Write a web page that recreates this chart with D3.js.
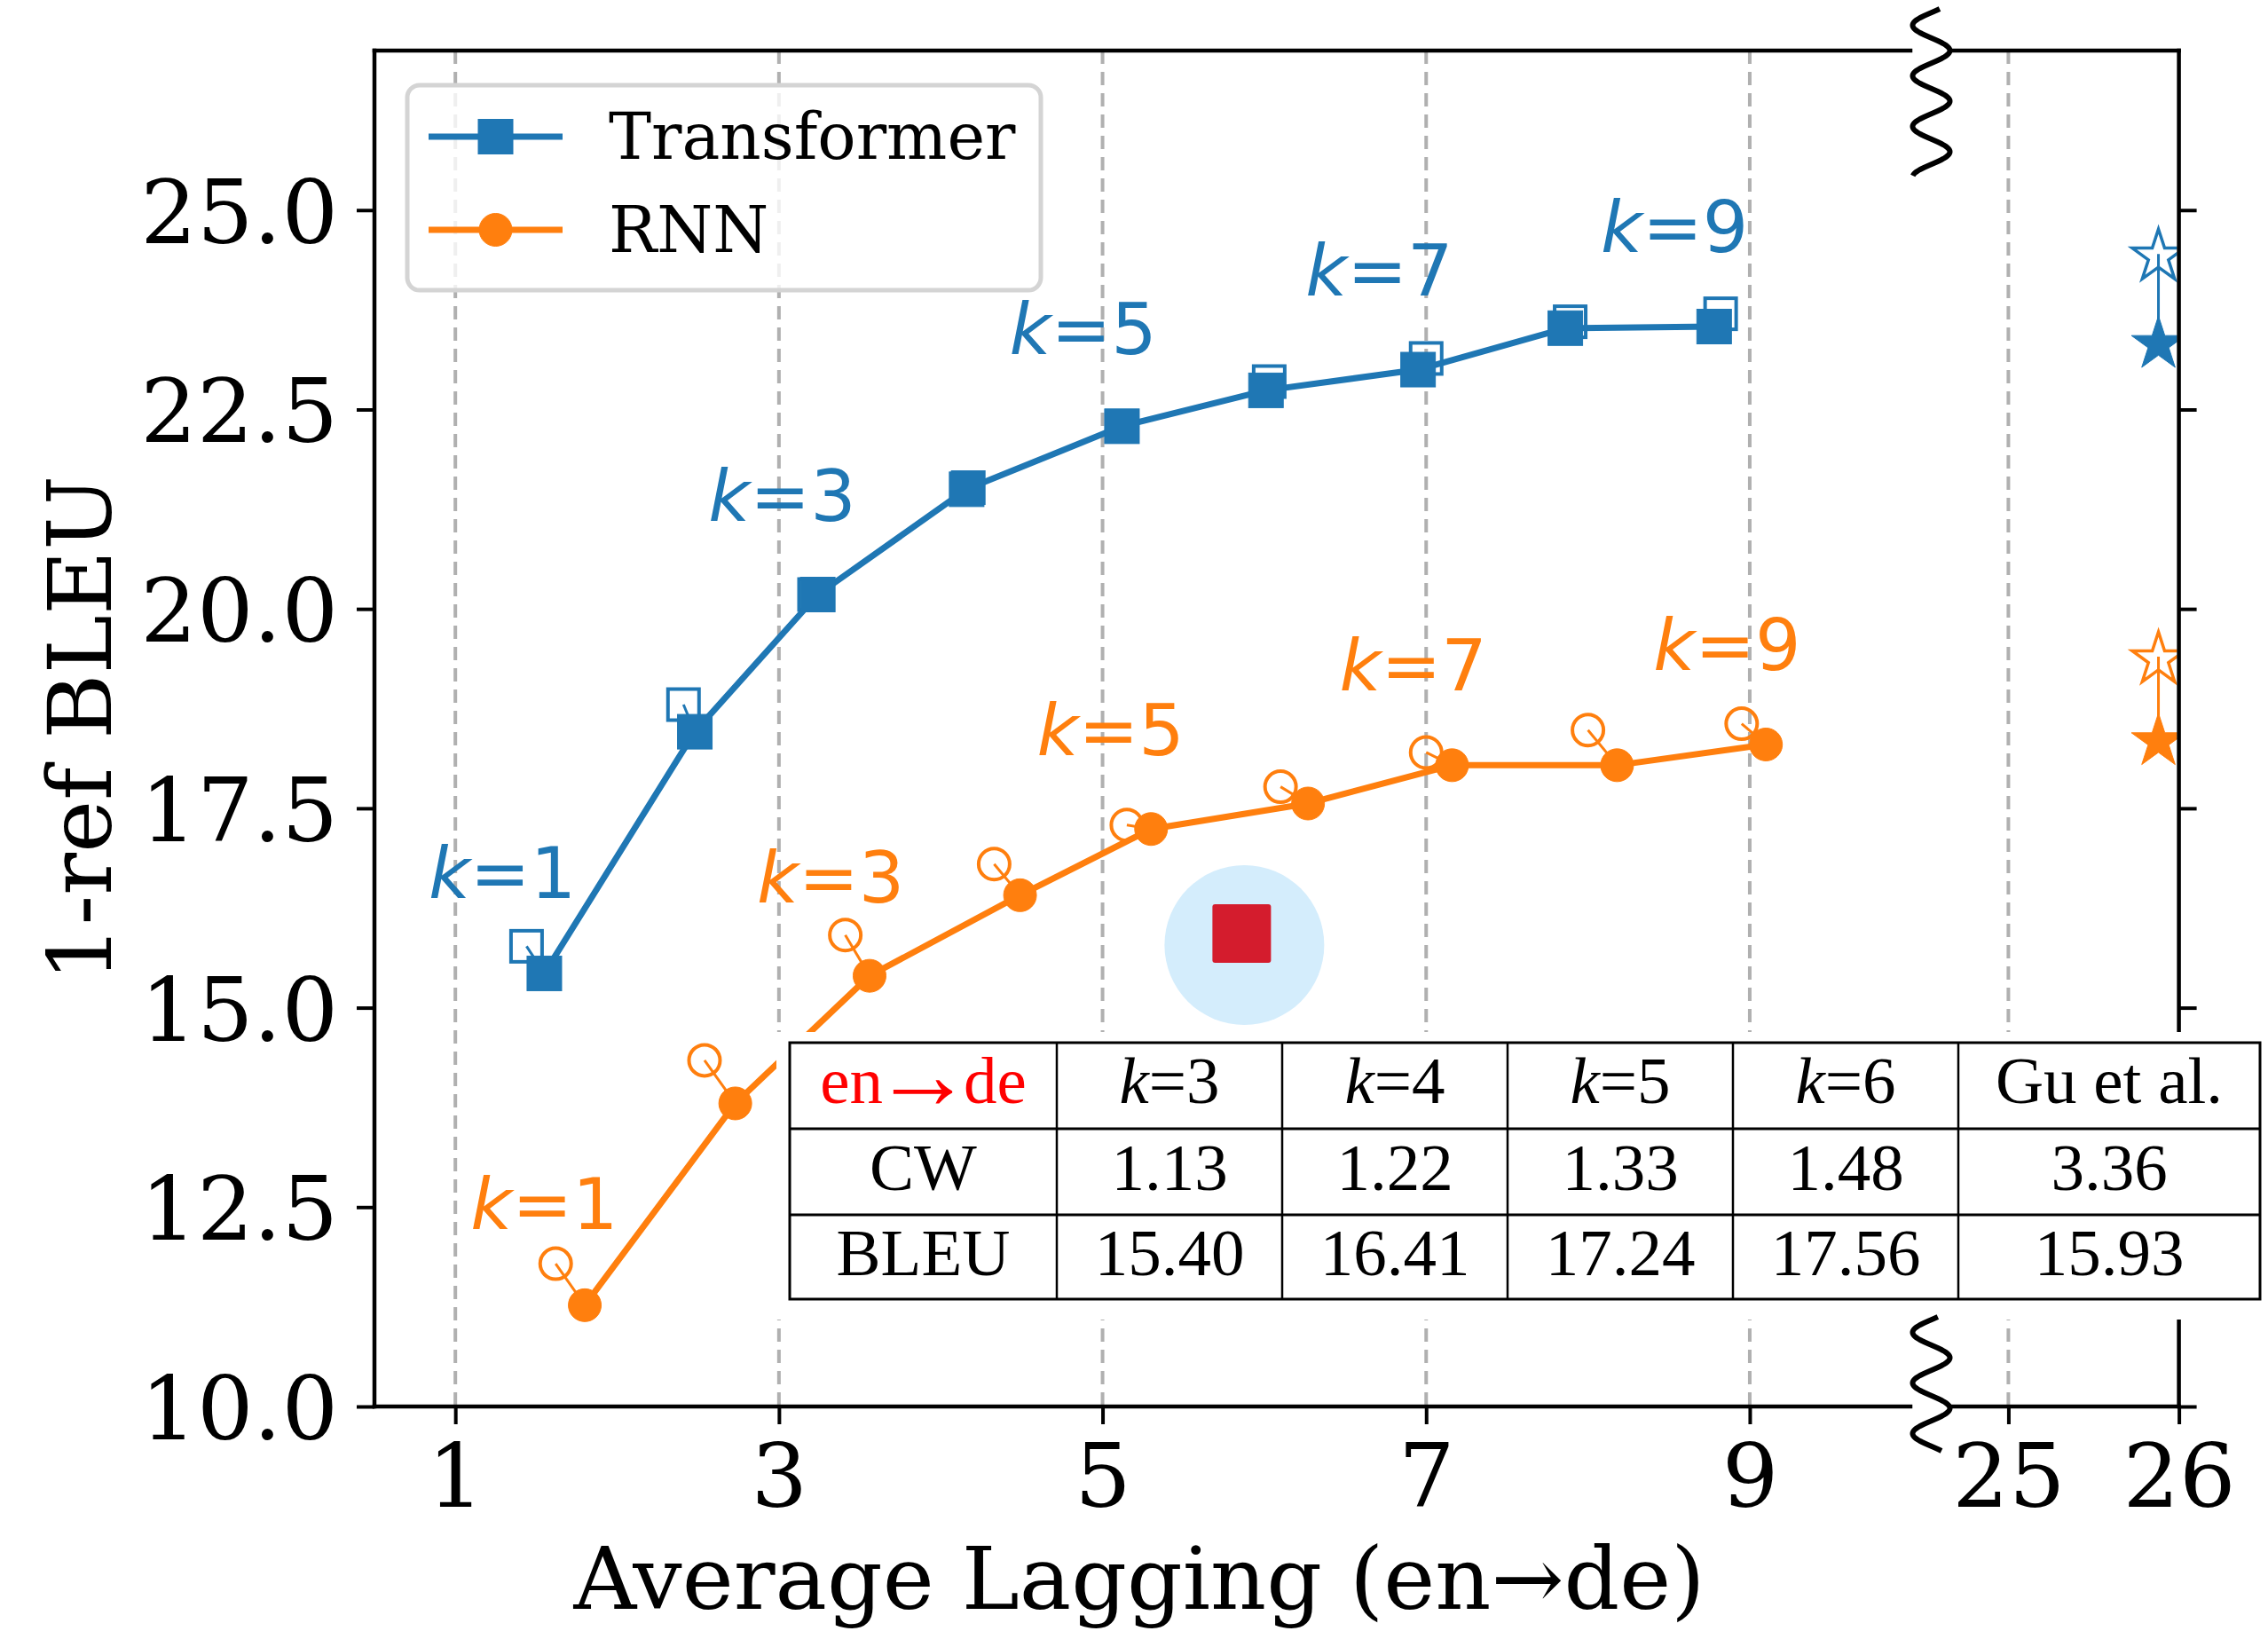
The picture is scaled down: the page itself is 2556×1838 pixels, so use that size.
<!DOCTYPE html>
<html>
<head>
<meta charset="utf-8">
<script src="https://cdn.jsdelivr.net/npm/d3@7"></script>
<style>
  html, body { margin: 0; padding: 0; background: #fff; }
  svg { display: block; }
</style>
</head>
<body>
<svg id="chart"></svg>
<script>
// ---- values ----
const transformerAL   = [1.55, 2.48, 3.24, 4.16, 5.12, 6.01, 6.95, 7.86, 8.78];
const transformerBLEU = [15.43, 18.46, 20.18, 21.50, 22.29, 22.74, 23.00, 23.52, 23.54];
// hollow markers (test-time wait-k), joined to the filled ones
const transformerTestAL   = [1.44, 2.41, 3.22, 4.17, 5.12, 6.03, 7.00, 7.89, 8.82];
const transformerTestBLEU = [15.77, 18.80, 20.18, 21.52, 22.29, 22.85, 23.14, 23.60, 23.70];

const rnnAL   = [1.80, 2.73, 3.56, 4.49, 5.30, 6.27, 7.16, 8.18, 9.10];
const rnnBLEU = [11.27, 13.80, 15.40, 16.41, 17.24, 17.56, 18.04, 18.04, 18.30];
const rnnTestAL   = [1.62, 2.54, 3.41, 4.33, 5.15, 6.10, 7.00, 8.00, 8.95];
const rnnTestBLEU = [11.79, 14.34, 15.91, 16.80, 17.29, 17.77, 18.20, 18.48, 18.56];

// full-sentence models (right of the axis break)
const fullAL = 25.88;
const fullBLEU     = [23.35, 18.37];   // Transformer, RNN
const fullTestBLEU = [24.45, 19.40];

// k annotations (data coords: centre x, baseline y)
const kLabels = [1, 3, 5, 7, 9];
const transformerLabelX = [1.29, 3.02, 4.88, 6.71, 8.535];
const transformerLabelY = [16.38, 21.10, 23.20, 23.93, 24.475];
const rnnLabelX = [1.55, 3.32, 5.05, 6.92, 8.86];
const rnnLabelY = [12.22, 16.32, 18.17, 18.98, 19.235];

// Gu et al.
const guAL = 5.86, guBLEU = 15.93;

const xTicksLeft = [1, 3, 5, 7, 9];
const xTicksRight = [25, 26];
const yTicks = [10, 12.5, 15, 17.5, 20, 22.5, 25];

const tableHeader = ['en→de', 'k=3', 'k=4', 'k=5', 'k=6', 'Gu et al.'];
const tableCW     = ['CW', '1.13', '1.22', '1.33', '1.48', '3.36'];
const tableBLEU   = ['BLEU', '15.40', '16.41', '17.24', '17.56', '15.93'];

// ---- layout ----
const W = 2556, H = 1838;
const plot = { left: 422, right: 2455.6, top: 57, bottom: 1585, breakL: 2153, breakR: 2200 };
const blue = '#1f77b4', orange = '#ff7f0e';
const serif = 'DejaVu Serif', sans = 'DejaVu Sans';

const svg = d3.select('#chart').attr('width', W).attr('height', H)
  .attr('font-family', serif);

const xL = d3.scaleLinear().domain([0.5, 10.13]).range([plot.left, 2178]);
const xR = d3.scaleLinear().domain([24.67, 26]).range([plot.breakR, plot.right]);
const y = d3.scaleLinear().domain([10, 27]).range([plot.bottom, plot.top]);

svg.append('defs').append('clipPath').attr('id', 'plotclip')
  .append('rect').attr('x', plot.left).attr('y', plot.top)
  .attr('width', plot.right - plot.left - 2).attr('height', plot.bottom - plot.top);

// vertical grid
const gridX = xTicksLeft.map(xL).concat([xR(25)]);
svg.append('g').selectAll('line').data(gridX).join('line')
  .attr('x1', d => d).attr('x2', d => d)
  .attr('y1', plot.top).attr('y2', plot.bottom)
  .attr('stroke', '#b0b0b0').attr('stroke-width', 4)
  .attr('stroke-dasharray', '15,9');

// Gu et al. highlight
svg.append('circle')
  .attr('cx', xL(guAL) + 3).attr('cy', y(guBLEU) + 13).attr('r', 90)
  .attr('fill', '#d4edfc');
svg.append('rect')
  .attr('x', xL(guAL) - 33).attr('y', y(guBLEU) - 33)
  .attr('width', 66).attr('height', 66).attr('rx', 3)
  .attr('fill', '#d41c2d');

const series = [
  { color: blue, shape: 'square', al: transformerAL, bleu: transformerBLEU,
    tal: transformerTestAL, tbleu: transformerTestBLEU,
    lx: transformerLabelX, ly: transformerLabelY },
  { color: orange, shape: 'circle', al: rnnAL, bleu: rnnBLEU,
    tal: rnnTestAL, tbleu: rnnTestBLEU,
    lx: rnnLabelX, ly: rnnLabelY }
];

const line = d3.line().x(d => xL(d[0])).y(d => y(d[1]));

function marker(sel, shape, size, filled, color) {
  if (shape === 'square') {
    sel.append('rect')
      .attr('x', -size / 2).attr('y', -size / 2)
      .attr('width', size).attr('height', size);
  } else {
    sel.append('circle').attr('r', size / 2);
  }
  sel.selectAll('rect,circle')
    .attr('fill', filled ? color : 'none')
    .attr('stroke', color)
    .attr('stroke-width', filled ? 1 : 4);
}

series.forEach(s => {
  const pts = s.al.map((v, i) => [v, s.bleu[i]]);
  const tpts = s.tal.map((v, i) => [v, s.tbleu[i]]);
  const g = svg.append('g');

  g.append('path').datum(pts).attr('d', line)
    .attr('fill', 'none').attr('stroke', s.color).attr('stroke-width', 7)
    .attr('stroke-linejoin', 'round');

  // hollow markers
  g.append('g').selectAll('g').data(tpts).join('g')
    .attr('transform', d => `translate(${xL(d[0])},${y(d[1])})`)
    .each(function () { marker(d3.select(this), s.shape, 35, false, s.color); });

  // connectors
  g.append('g').selectAll('line').data(tpts).join('line')
    .attr('x1', d => xL(d[0])).attr('y1', d => y(d[1]))
    .attr('x2', (d, i) => xL(pts[i][0])).attr('y2', (d, i) => y(pts[i][1]))
    .attr('stroke', s.color).attr('stroke-width', 3);

  // filled markers
  g.append('g').selectAll('g').data(pts).join('g')
    .attr('transform', d => `translate(${xL(d[0])},${y(d[1])})`)
    .each(function () { marker(d3.select(this), s.shape, s.shape === 'square' ? 39 : 37, true, s.color); });

  // k labels
  const t = g.append('g').selectAll('text').data(kLabels).join('text')
    .attr('x', (d, i) => xL(s.lx[i])).attr('y', (d, i) => y(s.ly[i]))
    .attr('text-anchor', 'middle')
    .attr('font-family', sans).attr('font-size', 81)
    .attr('fill', s.color);
  t.append('tspan').attr('font-style', 'italic').text('k');
  t.append('tspan').text(d => '=' + d);
});

// full-sentence stars
function starPath(R) {
  const r = R * 0.381966;
  const p = d3.path();
  for (let i = 0; i < 10; i++) {
    const a = -Math.PI / 2 + i * Math.PI / 5;
    const rad = i % 2 === 0 ? R : r;
    const px = rad * Math.cos(a), py = rad * Math.sin(a);
    if (i === 0) p.moveTo(px, py); else p.lineTo(px, py);
  }
  p.closePath();
  return p.toString();
}
const starG = svg.append('g').attr('clip-path', 'url(#plotclip)');
[blue, orange].forEach((c, i) => {
  starG.append('line')
    .attr('x1', xR(fullAL)).attr('x2', xR(fullAL))
    .attr('y1', y(fullTestBLEU[i])).attr('y2', y(fullBLEU[i]))
    .attr('stroke', c).attr('stroke-width', 3);
  starG.append('path').attr('d', starPath(31))
    .attr('transform', `translate(${xR(fullAL)},${y(fullTestBLEU[i]) + 3})`)
    .attr('fill', 'none').attr('stroke', c).attr('stroke-width', 3.5)
    .attr('stroke-linejoin', 'miter');
  starG.append('path').attr('d', starPath(32))
    .attr('transform', `translate(${xR(fullAL)},${y(fullBLEU[i]) + 3})`)
    .attr('fill', c).attr('stroke', c).attr('stroke-width', 1);
});

// ---- axes ----
function styleAxis(g) {
  g.select('.domain').remove();
  g.selectAll('.tick line').attr('stroke', '#000').attr('stroke-width', 4);
  g.selectAll('.tick text').attr('font-size', 100).attr('font-family', serif).attr('fill', '#000');
}
svg.append('g').attr('transform', `translate(${plot.left},0)`)
  .call(d3.axisLeft(y).tickValues(yTicks).tickFormat(d3.format('.1f')).tickSize(20).tickPadding(21))
  .call(styleAxis)
  .selectAll('.tick text').attr('dy', '0.365em');
svg.append('g').attr('transform', `translate(${plot.right},0)`)
  .call(d3.axisRight(y).tickValues(yTicks).tickFormat(() => '').tickSize(20))
  .call(styleAxis);
svg.append('g').attr('transform', `translate(0,${plot.bottom})`)
  .call(d3.axisBottom(xL).tickValues(xTicksLeft).tickFormat(d3.format('d')).tickSize(20).tickPadding(22))
  .call(styleAxis);
svg.append('g').attr('transform', `translate(0,${plot.bottom})`)
  .call(d3.axisBottom(xR).tickValues(xTicksRight).tickFormat(d3.format('d')).tickSize(20).tickPadding(22))
  .call(styleAxis);

// spines
const spines = [
  [plot.left, plot.top, plot.left, plot.bottom],
  [plot.right, plot.top, plot.right, plot.bottom],
  [plot.left, plot.top, plot.breakL, plot.top],
  [plot.breakR, plot.top, plot.right, plot.top],
  [plot.left, plot.bottom, plot.breakL, plot.bottom],
  [plot.breakR, plot.bottom, plot.right, plot.bottom]
];
svg.append('g').selectAll('line').data(spines).join('line')
  .attr('x1', d => d[0]).attr('y1', d => d[1]).attr('x2', d => d[2]).attr('y2', d => d[3])
  .attr('stroke', '#000').attr('stroke-width', 4.5).attr('stroke-linecap', 'square');

// break squiggles
const bx = (plot.breakL + plot.breakR) / 2;
function squiggle(y0, y1, yRight) {
  const pts = d3.range(y0, y1 + 0.5, 1).map(yy => [bx + 21 * Math.cos(Math.PI * (yy - yRight) / 28.5), yy]);
  return d3.line()(pts);
}
svg.append('path').attr('d', squiggle(10, 198, 57))
  .attr('fill', 'none').attr('stroke', '#000').attr('stroke-width', 6);

// ---- table (drawn over the plot on a white card) ----
const colEdges = [890, 1191, 1445, 1699, 1953, 2207, 2547];
const rowEdges = [1175, 1272, 1369, 1464];
const rowBase = [1243, 1341, 1437];
const tg = svg.append('g').attr('font-family', 'Liberation Serif').attr('font-size', 75);
tg.append('rect').attr('x', 875).attr('y', 1163).attr('width', W - 875).attr('height', 1487 - 1163)
  .attr('fill', '#fff');
tg.append('rect').attr('x', colEdges[0]).attr('y', rowEdges[0])
  .attr('width', colEdges[6] - colEdges[0]).attr('height', rowEdges[3] - rowEdges[0])
  .attr('fill', 'none').attr('stroke', '#000').attr('stroke-width', 3);
tg.selectAll('.hl').data(rowEdges.slice(1, 3)).join('line')
  .attr('x1', colEdges[0]).attr('x2', colEdges[6]).attr('y1', d => d).attr('y2', d => d)
  .attr('stroke', '#000').attr('stroke-width', 3);
tg.selectAll('.vl').data(colEdges.slice(1, 6)).join('line')
  .attr('y1', rowEdges[0]).attr('y2', rowEdges[3]).attr('x1', d => d).attr('x2', d => d)
  .attr('stroke', '#000').attr('stroke-width', 2.5);
[tableHeader, tableCW, tableBLEU].forEach((row, r) => {
  row.forEach((cell, c) => {
    const t = tg.append('text')
      .attr('x', (colEdges[c] + colEdges[c + 1]) / 2).attr('y', rowBase[r])
      .attr('text-anchor', 'middle')
      .attr('fill', r === 0 && c === 0 ? '#ff0000' : '#000');
    if (cell.startsWith('k=')) {
      t.append('tspan').attr('font-style', 'italic').text('k');
      t.append('tspan').text(cell.slice(1));
    } else if (cell.includes('→')) {
      // thin, wide arrow as in the typeset table
      const [a, b] = cell.split('→');
      t.append('tspan').text(a);
      t.append('tspan').attr('font-size', 112).attr('dx', -11).attr('dy', 6).text('→');
      t.append('tspan').attr('dx', -10).attr('dy', -6).text(b);
    } else {
      t.text(cell);
    }
  });
});

// bottom squiggle (on top of the table card edge)
svg.append('path').attr('d', squiggle(1484, 1635, 1530))
  .attr('fill', 'none').attr('stroke', '#000').attr('stroke-width', 6);

// ---- legend ----
const lg = svg.append('g');
lg.append('rect').attr('x', 459).attr('y', 96).attr('width', 714).attr('height', 231)
  .attr('rx', 14).attr('fill', '#fff').attr('fill-opacity', 0.8)
  .attr('stroke', '#d4d4d4').attr('stroke-width', 5);
const legendItems = [
  { name: 'Transformer', color: blue, shape: 'square', yy: 154 },
  { name: 'RNN', color: orange, shape: 'circle', yy: 259 }
];
legendItems.forEach(d => {
  lg.append('line').attr('x1', 483).attr('x2', 634).attr('y1', d.yy).attr('y2', d.yy)
    .attr('stroke', d.color).attr('stroke-width', 7);
  const m = lg.append('g').attr('transform', `translate(558.5,${d.yy})`);
  marker(m, d.shape, d.shape === 'square' ? 39 : 37, true, d.color);
  lg.append('text').attr('x', 686).attr('y', d.yy + 25)
    .attr('font-size', 72).attr('fill', '#000').text(d.name);
});

// ---- axis titles ----
svg.append('text').attr('x', 1284).attr('y', 1813).attr('text-anchor', 'middle')
  .attr('font-size', 98).text('Average Lagging (en→de)');
svg.append('text').attr('transform', 'translate(125,821) rotate(-90)')
  .attr('text-anchor', 'middle').attr('font-size', 100).text('1-ref BLEU');
</script>
</body>
</html>
